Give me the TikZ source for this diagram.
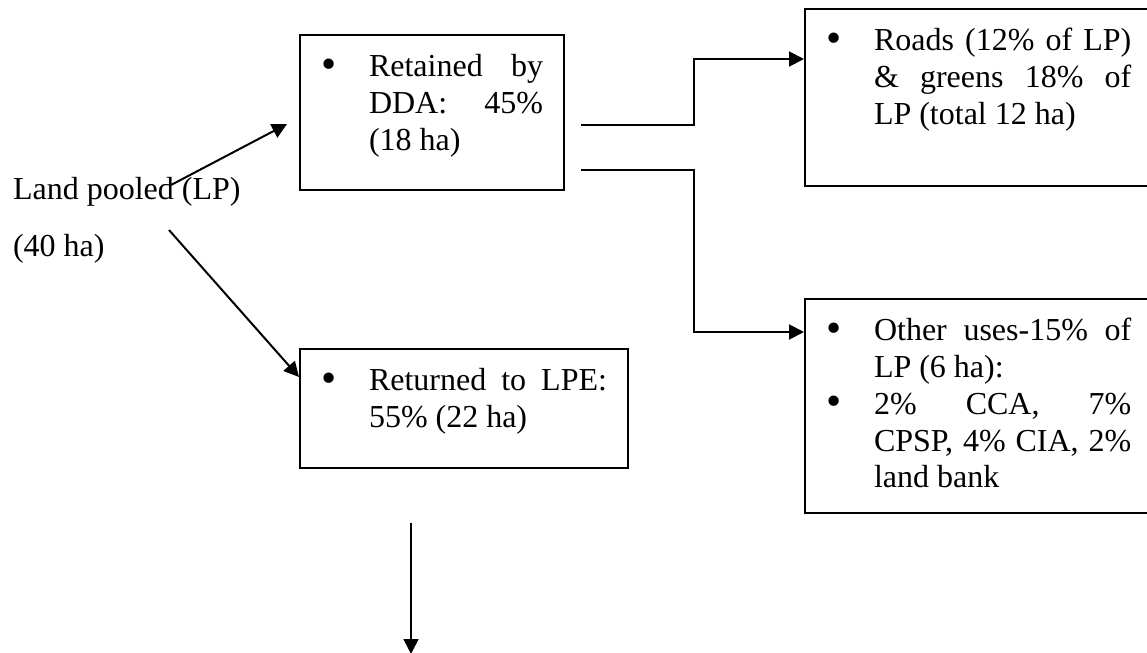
\documentclass[tikz,border=0pt]{standalone}
\usepackage{fontspec}
\setmainfont{Liberation Serif}
\usepackage{tikz}
\usetikzlibrary{arrows.meta}
\usetikzlibrary{calc}
\tikzset{>={Triangle[length=5.6pt,width=5.6pt]}}
\tikzstyle{listbox} = [draw, rectangle, anchor=north west,
    inner xsep=7.875pt, inner ysep=0pt]
\newcommand{\bul}{\par\hangindent=18pt\hangafter=1\noindent
    \makebox[18pt][l]{\raisebox{-0.6pt}{\scalebox{1.35}{\textbullet}}}\strut}
\newcommand{\boxtext}[3]{\parbox[c][#1][t]{#2}{\vspace*{6pt}#3}}

\begin{document}
\begin{tikzpicture}[x=0.375pt, y=-0.375pt, line width=0.75pt,
    font=\fontsize{12}{13.8}\selectfont]
    \useasboundingbox (0,0) rectangle (1147,652);
    \clip (0,0) rectangle (1147,652);
    %boxes
    \node[listbox] (ret) at (299,34)
        {\boxtext{58.1pt}{83.25pt}{\bul Retained by\linebreak DDA: 45\%\linebreak (18 ha)}};
    \node[listbox] (back) at (299,348)
        {\boxtext{44.6pt}{107.25pt}{\bul Returned to LPE:\linebreak 55\% (22 ha)}};
    \node[listbox] (roads) at (804,8)
        {\boxtext{66.4pt}{114.5pt}{\bul Roads (12\% of LP)\linebreak \& greens 18\% of\linebreak LP (total 12 ha)}};
    \node[listbox] (other) at (804,298)
        {\boxtext{80.25pt}{114.5pt}{\bul Other uses-15\% of\linebreak LP (6 ha):
        \bul 2\% CCA, 7\%\linebreak CPSP, 4\% CIA, 2\%\linebreak land bank}};
    %label
    \node[anchor=north west, inner sep=0pt, align=left] (lp) at (12,176)
        {Land pooled (LP)\\[7.6pt](40 ha)};
    %end points
    \coordinate (lpa) at ($(lp.north west)+(159,9)$);
    \coordinate (lpb) at ($(lp.north west)+(157,54)$);
    \coordinate (reta) at ($(ret.north east)+(16,91)$);
    \coordinate (retb) at ($(ret.north east)+(16,136)$);
    \coordinate (down) at ($(back.south west)+(112,54)$);
    \coordinate (downend) at ($(back.south west)+(112,185)$);
    %arrows
    \draw [->] (lpa) -- ($(ret.north west)+(-12,90)$);
    \draw [->] (lpb) -- ($(back.north west)+(0,29)$);
    \draw [->] (reta) -- ++(113,0) |- ($(roads.north west)+(0,51)$);
    \draw [->] (retb) -- ++(113,0) |- ($(other.north west)+(0,34)$);
    \draw [->] (down) -- (downend);
\end{tikzpicture}
\end{document}
